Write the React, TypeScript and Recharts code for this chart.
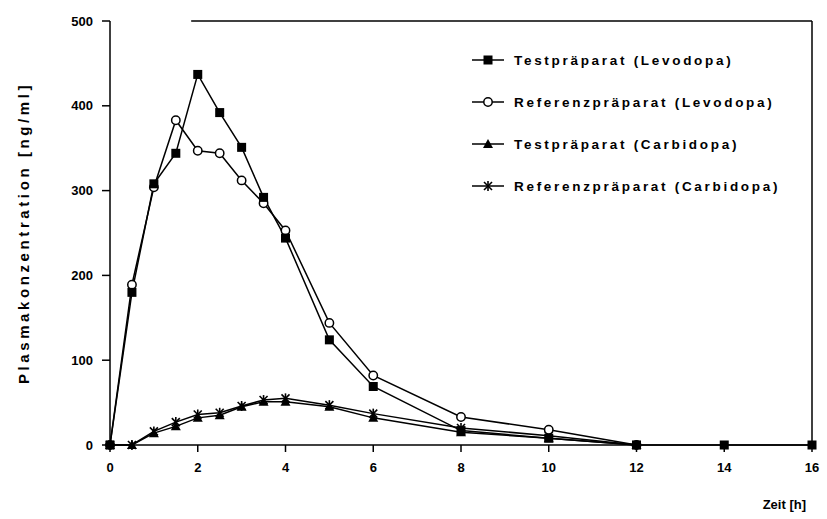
import React from "react";
import { LineChart, Line, XAxis, YAxis, ReferenceLine, Legend, Label } from "recharts";

// Zeitpunkte [h] und Plasmakonzentrationen [ng/ml]
const timeH = [0, 0.5, 1, 1.5, 2, 2.5, 3, 3.5, 4, 5, 6, 8, 10, 12, 14, 16];
const testLevodopa = [0, 180, 308, 344, 437, 392, 351, 292, 244, 124, 69, 17, 8, 0, 0, 0];
const refLevodopa = [0, 189, 304, 383, 347, 344, 312, 285, 253, 144, 82, 33, 18, 0, null, null];
const testCarbidopa = [0, 0, 14, 22, 32, 35, 45, 51, 51, 45, 32, 15, 8, 0, null, null];
const refCarbidopa = [0, 0, 16, 27, 36, 38, 46, 53, 55, 47, 37, 20, 11, 0, null, null];
const xTicks = [0, 2, 4, 6, 8, 10, 12, 14, 16];
const yTicks = [0, 100, 200, 300, 400, 500];

const seriesNames = [
  "Testpräparat (Levodopa)",
  "Referenzpräparat (Levodopa)",
  "Testpräparat (Carbidopa)",
  "Referenzpräparat (Carbidopa)",
];

const data = timeH.map((t, i) => ({
  t,
  testL: testLevodopa[i],
  refL: refLevodopa[i],
  testC: testCarbidopa[i],
  refC: refCarbidopa[i],
}));

const FONT = "'Liberation Sans', Arial, sans-serif";
const INK = "#000";

type Shape = "square" | "circle" | "triangle" | "cross";

function Marker({ shape, cx, cy }: { shape: Shape; cx: number; cy: number }) {
  if (shape === "square") return <rect x={cx - 4.5} y={cy - 4.5} width={9} height={9} fill={INK} />;
  if (shape === "circle") return <circle cx={cx} cy={cy} r={4.2} fill="#fff" stroke={INK} strokeWidth={1.5} />;
  if (shape === "triangle")
    return <polygon points={`${cx},${cy - 5} ${cx + 5},${cy + 4} ${cx - 5},${cy + 4}`} fill={INK} />;
  return (
    <g stroke={INK} strokeWidth={1.6}>
      <line x1={cx - 4} y1={cy - 4} x2={cx + 4} y2={cy + 4} />
      <line x1={cx - 4} y1={cy + 4} x2={cx + 4} y2={cy - 4} />
      <line x1={cx} y1={cy - 5} x2={cx} y2={cy + 5} />
    </g>
  );
}

const dotFor = (shape: Shape) => (props: any) => {
  const { cx, cy, index, value } = props;
  if (cx == null || cy == null || value == null) return <g key={`${shape}-${index}`} />;
  return <Marker key={`${shape}-${index}`} shape={shape} cx={cx} cy={cy} />;
};

const legendShapes: Shape[] = ["square", "circle", "triangle", "cross"];

function LegendBox() {
  return (
    <div style={{ fontFamily: FONT, fontWeight: 700, fontSize: 13.5, letterSpacing: 2.7 }}>
      {seriesNames.map((name, i) => (
        <div key={name} style={{ height: 42, display: "flex", alignItems: "center" }}>
          <svg width={40} height={14} style={{ marginRight: 4 }}>
            <line x1={2} y1={7} x2={34} y2={7} stroke={INK} strokeWidth={1.5} />
            <Marker shape={legendShapes[i]} cx={18} cy={7} />
          </svg>
          <span>{name}</span>
        </div>
      ))}
    </div>
  );
}

const tickStyle = { fill: INK, fontSize: 13, fontWeight: 700, fontFamily: FONT };

export default function App() {
  return (
    <div style={{ position: "absolute", left: 0, top: 0, background: "#fff" }}>
      <LineChart width={827} height={519} data={data} margin={{ top: 21, right: 15, bottom: 4, left: 10 }}>
        <XAxis
          dataKey="t"
          type="number"
          domain={[0, 16]}
          ticks={xTicks}
          tick={tickStyle}
          tickSize={7}
          tickMargin={11}
          height={70}
          axisLine={{ stroke: INK, strokeWidth: 1.5 }}
          tickLine={{ stroke: INK, strokeWidth: 1.5 }}
        >
          <Label value="Zeit [h]" position="insideBottomRight" offset={6} style={{ fill: INK, fontSize: 13, fontWeight: 700, fontFamily: FONT }} />
        </XAxis>
        <YAxis
          type="number"
          domain={[0, 500]}
          ticks={yTicks}
          tick={tickStyle}
          tickSize={8}
          tickMargin={9}
          width={100}
          axisLine={{ stroke: INK, strokeWidth: 1.5 }}
          tickLine={{ stroke: INK, strokeWidth: 1.5 }}
        >
          <Label
            content={(p: any) => {
              const vb = p.viewBox || { x: 10, y: 21, height: 424 };
              const x = vb.x + 13;
              const y = vb.y + vb.height / 2;
              return (
                <text
                  x={x}
                  y={y}
                  transform={`rotate(-90, ${x}, ${y})`}
                  textAnchor="middle"
                  dominantBaseline="central"
                  style={{ fill: INK, fontSize: 15, fontWeight: 700, fontFamily: FONT, letterSpacing: 3.6 }}
                >
                  Plasmakonzentration [ng/ml]
                </text>
              );
            }}
          />
        </YAxis>
        <ReferenceLine x={16} stroke={INK} strokeWidth={1.5} />
        <ReferenceLine segment={[{ x: 1.85, y: 500 }, { x: 16, y: 500 }]} stroke={INK} strokeWidth={1.5} />
        <Legend
          layout="horizontal"
          verticalAlign="middle"
          align="center"
          content={() => <LegendBox />}
          wrapperStyle={{ position: "absolute", left: 470, top: 39, width: 340 }}
        />
        <Line dataKey="testC" name={seriesNames[2]} stroke={INK} strokeWidth={1.5} dot={dotFor("triangle")} isAnimationActive={false} />
        <Line dataKey="refC" name={seriesNames[3]} stroke={INK} strokeWidth={1.5} dot={dotFor("cross")} isAnimationActive={false} />
        <Line dataKey="refL" name={seriesNames[1]} stroke={INK} strokeWidth={1.5} dot={dotFor("circle")} isAnimationActive={false} />
        <Line dataKey="testL" name={seriesNames[0]} stroke={INK} strokeWidth={1.5} dot={dotFor("square")} isAnimationActive={false} />
      </LineChart>
    </div>
  );
}
